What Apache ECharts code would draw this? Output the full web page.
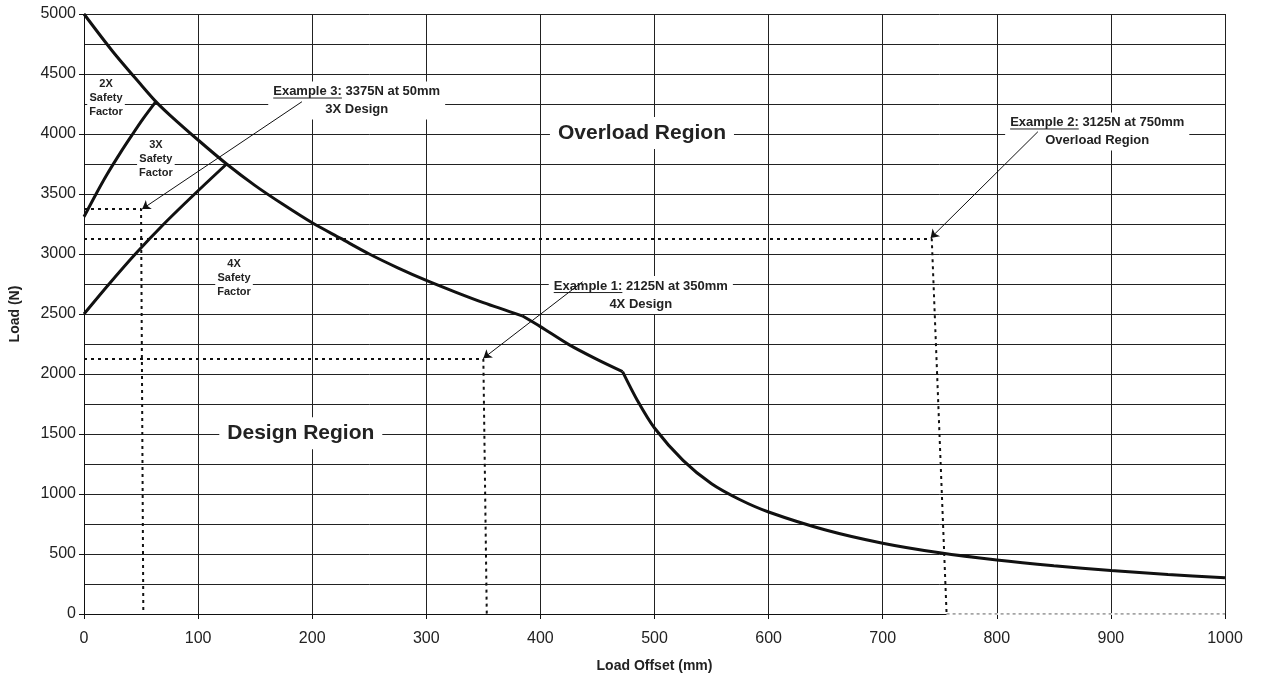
<!DOCTYPE html>
<html><head><meta charset="utf-8">
<script src="https://cdn.jsdelivr.net/npm/echarts@6/dist/echarts.min.js"></script>
<style>html,body{margin:0;padding:0;background:#fff}#c{width:1261px;height:679px}</style>
</head><body><div id="c"></div>
<script>
// ---- data ----
const mainSeg1X = [0, 25, 50, 63, 75, 100, 125, 150, 175, 200, 225, 250, 275, 300, 325, 350, 384];
const mainSeg1Y = [5000, 4690, 4410, 4270, 4160, 3950, 3750, 3570, 3410, 3260, 3130, 3000, 2885, 2780, 2685, 2595, 2485];
const mainSeg2X = [384, 400, 425, 450, 472];
const mainSeg2Y = [2485, 2395, 2245, 2120, 2020];
const mainSeg3X = [472, 485, 500, 525, 550, 575, 600, 650, 700, 750, 800, 850, 900, 950, 1000];
const mainSeg3Y = [2020, 1780, 1550, 1280, 1085, 952, 850, 700, 590, 510, 450, 402, 362, 330, 302];
const sf2X = [0, 10, 20, 31, 42, 52, 63];
const sf2Y = [3310, 3490, 3660, 3830, 3990, 4130, 4270];
const sf4X = [0, 22, 45, 70, 97, 125];
const sf4Y = [2500, 2750, 3000, 3250, 3500, 3750];
const ex1X = [0, 350, 353];
const ex1Y = [2125, 2125, 0];
const ex2X = [0, 743, 756];
const ex2Y = [3125, 3125, 0];
const ex2BaseX = [756, 1000];
const ex2BaseY = [0, 0];
const ex3X = [0, 50, 52];
const ex3Y = [3375, 3375, 0];
const xTickLabels = ['0','100','200','300','400','500','600','700','800','900','1000'];
const yTickLabels = ['0','500','1000','1500','2000','2500','3000','3500','4000','4500','5000'];

// annotation texts and their anchor points (data coordinates)
const exampleTexts = [
  ['Example 3:', ' 3375N at 50mm', '3X Design'],
  ['Example 1:', ' 2125N at 350mm', '4X Design'],
  ['Example 2:', ' 3125N at 750mm', 'Overload Region']
];
const exampleAnchors = [[239, 4279], [488, 2658], [888, 4021]];
const arrowFrom = [[191, 4269], [437, 2769], [836, 4019]];
const arrowTo = [[51, 3375], [350, 2131], [742, 3133]];
const safetyTexts = [['2X','Safety','Factor'], ['3X','Safety','Factor'], ['4X','Safety','Factor']];
const safetyAnchors = [[19.3, 4300], [63, 3792], [131.5, 2800]];
const regionTexts = ['Overload Region', 'Design Region'];
const regionAnchors = [[489, 4008], [190, 1506]];

const zip = (xs, ys) => xs.map((x, i) => [x, ys[i]]);
const FONT = '"Liberation Sans", Arial, sans-serif';
const INK = '#222';

const chart = echarts.init(document.getElementById('c'), null, {renderer: 'canvas'});

const curveStyle = {color: '#111', width: 3};
const dotStyle = {color: '#111', width: 2, type: [3, 4], cap: 'butt'};
function lineSeries(data, style, z, smooth) {
  return {type: 'line', data, symbol: 'none', showSymbol: false, smooth: smooth || false,
    lineStyle: style, z: z, silent: true, animation: false};
}

chart.setOption({
  animation: false,
  backgroundColor: '#fff',
  grid: {left: 83, right: 36, top: 14, bottom: 65, containLabel: false},
  xAxis: {
    type: 'value', min: 0, max: 1000, interval: 100,
    name: 'Load Offset (mm)', nameLocation: 'middle', nameGap: 45,
    nameTextStyle: {fontFamily: FONT, fontWeight: 'bold', fontSize: 14, color: INK},
    axisLine: {lineStyle: {color: '#111', width: 1}},
    axisTick: {show: true, length: 5, lineStyle: {color: '#111'}},
    axisLabel: {fontFamily: FONT, fontSize: 16, color: INK, margin: 17,
      formatter: (v) => xTickLabels[Math.round(v / 100)]},
    splitLine: {show: true, lineStyle: {color: INK, width: 1}}
  },
  yAxis: {
    type: 'value', min: 0, max: 5000, interval: 500,
    name: 'Load (N)', nameLocation: 'middle', nameGap: 62, nameRotate: 90,
    nameTextStyle: {fontFamily: FONT, fontWeight: 'bold', fontSize: 14, color: INK},
    axisLine: {show: true, lineStyle: {color: '#111', width: 1}},
    axisTick: {show: true, length: 5, lineStyle: {color: '#111'}},
    axisLabel: {fontFamily: FONT, fontSize: 16, color: INK, margin: 8,
      formatter: (v) => yTickLabels[Math.round(v / 500)]},
    splitLine: {show: true, lineStyle: {color: INK, width: 1}},
    minorTick: {show: false, splitNumber: 2},
    minorSplitLine: {show: true, lineStyle: {color: INK, width: 1}}
  },
  series: [
    lineSeries(zip(ex1X, ex1Y), dotStyle, 3),
    lineSeries(zip(ex2X, ex2Y), dotStyle, 3),
    lineSeries(zip(ex3X, ex3Y), dotStyle, 3),
    lineSeries(zip(ex2BaseX, ex2BaseY), {color: '#fff', width: 2}, 4),
    lineSeries(zip(ex2BaseX, ex2BaseY), {color: '#888', width: 1.5, type: [3, 3]}, 5),
    lineSeries(zip(mainSeg1X, mainSeg1Y), curveStyle, 6, 0.3),
    lineSeries(zip(mainSeg2X, mainSeg2Y), curveStyle, 6, 0.3),
    lineSeries(zip(mainSeg3X, mainSeg3Y), curveStyle, 6, 0.3),
    lineSeries(zip(sf2X, sf2Y), curveStyle, 6, 0.3),
    lineSeries(zip(sf4X, sf4Y), curveStyle, 6, 0.3),
    {
      type: 'lines', coordinateSystem: 'cartesian2d', z: 30, silent: true, animation: false,
      symbol: ['none', 'arrow'], symbolSize: 8,
      lineStyle: {color: '#111', width: 1, opacity: 1, curveness: 0},
      data: arrowFrom.map((p, i) => ({coords: [p, arrowTo[i]]}))
    }
  ]
});

// ---- annotations placed from data coordinates ----
const mctx = document.createElement('canvas').getContext('2d');
function measure(text, font) { mctx.font = font; return mctx.measureText(text).width; }
const toPx = (p) => chart.convertToPixel({xAxisIndex: 0, yAxisIndex: 0}, p);

const g = [];
function textEl(str, x, y, font, z) {
  return {type: 'text', x, y, z: z, silent: true,
    style: {text: str, font, fill: INK, align: 'center', verticalAlign: 'middle'}};
}
function boxEl(x, y, w, h, z) {
  return {type: 'rect', z: z, silent: true, shape: {x, y, width: w, height: h},
    style: {fill: '#fff', stroke: null}};
}

// example boxes
const exFont = 'bold 13px ' + FONT;
exampleTexts.forEach((t, i) => {
  const [cx, cy] = toPx(exampleAnchors[i]);
  const lh = 18;
  const line1 = t[0] + t[1];
  const w1 = measure(line1, exFont), w2 = measure(t[2], exFont);
  const w = Math.max(w1, w2);
  g.push(boxEl(cx - w / 2 - 5, cy - lh - 1, w + 10, lh * 2 + 2, 10));
  g.push(textEl(line1, cx, cy - lh / 2, exFont, 11));
  g.push(textEl(t[2], cx, cy + lh / 2, exFont, 11));
  const uw = measure(t[0], exFont);
  const ux = cx - w1 / 2;
  const uy = cy - lh / 2 + 6.5;
  g.push({type: 'line', z: 11, silent: true, shape: {x1: ux, y1: uy, x2: ux + uw, y2: uy},
    style: {stroke: INK, lineWidth: 1}});
});

// safety factor labels
const sfFont = 'bold 11px ' + FONT;
safetyTexts.forEach((t, i) => {
  const [cx, cy] = toPx(safetyAnchors[i]);
  const lh = 14;
  const w = Math.max(...t.map(s => measure(s, sfFont)));
  g.push(boxEl(cx - w / 2 - 2, cy - lh * 1.5 - 1, w + 4, lh * 3 + 2, 10));
  t.forEach((s, k) => g.push(textEl(s, cx, cy + (k - 1) * lh, sfFont, 11)));
});

// region labels
const rgFont = 'bold 21px ' + FONT;
regionTexts.forEach((s, i) => {
  const [cx, cy] = toPx(regionAnchors[i]);
  const w = measure(s, rgFont);
  g.push(boxEl(cx - w / 2 - 8, cy - 16, w + 16, 32, 10));
  g.push(textEl(s, cx, cy, rgFont, 11));
});

chart.setOption({graphic: {elements: g}});
</script>
</body></html>
